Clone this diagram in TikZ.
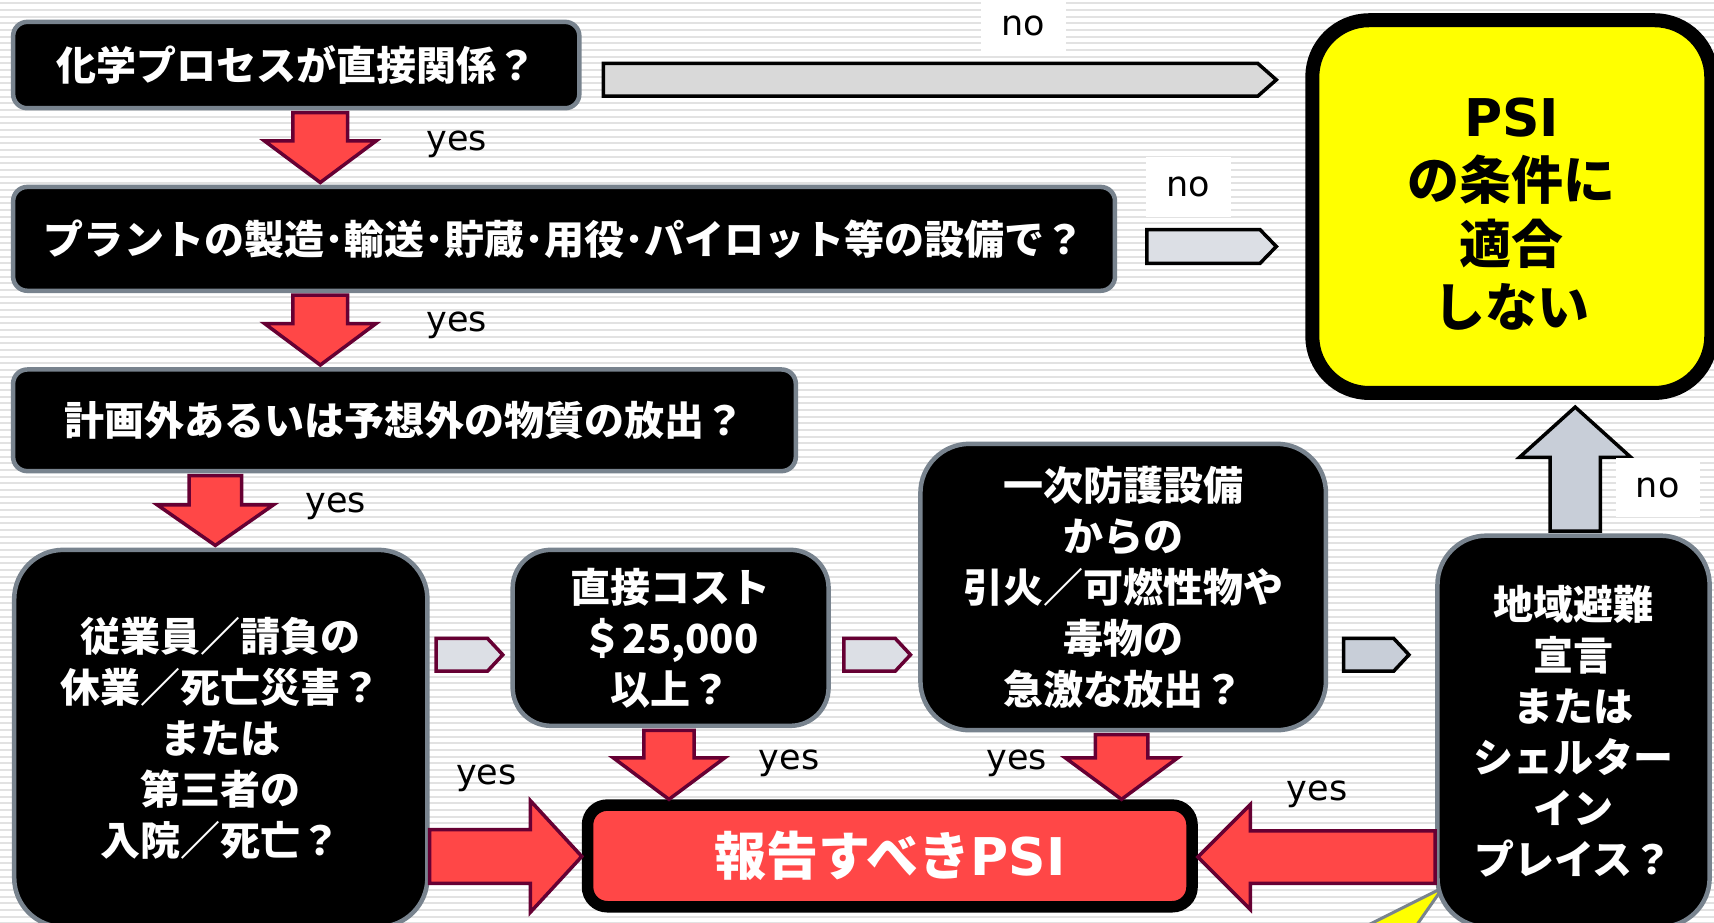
\documentclass[tikz,border=0pt]{standalone}
\usepackage{fontspec}
\usetikzlibrary{calc}
\newfontfamily\jp{Noto Sans CJK JP}
\newfontfamily\dv{DejaVu Sans}
\definecolor{boxgray}{HTML}{78838E}
\definecolor{redf}{HTML}{FF4747}
\definecolor{maroonc}{HTML}{660033}
\definecolor{lgrayf}{HTML}{D9D9D9}
\definecolor{lbluef}{HTML}{DCDFE5}
\definecolor{sgrayf}{HTML}{C8CED8}
\definecolor{stripec}{HTML}{E2E2E2}
\definecolor{yelf}{HTML}{FFFF00}
\newcommand\D[1]{#1*1.093pt}
\tikzset{
  qbox/.style={draw=boxgray, line width=4.5pt, fill=black, text=white, align=center,
    inner sep=0pt, font=\jp\bfseries\fontsize{40}{51}\selectfont},
  ybox/.style={draw=black, line width=14pt, fill=yelf, text=black, align=center,
    inner sep=0pt, font=\jp\bfseries\fontsize{52}{63.5}\selectfont},
  rbox/.style={draw=black, line width=11.5pt, fill=redf, text=white, align=center,
    inner sep=0pt, font=\jp\bfseries\fontsize{52}{60}\selectfont},
  redarr/.style={fill=redf, draw=maroonc, line width=3.5pt, line join=miter},
  grayarr/.style={fill=lgrayf, draw=black, line width=3.5pt, line join=miter},
  bluearr/.style={fill=lbluef, draw=black, line width=3.5pt, line join=miter},
  slatearr/.style={fill=sgrayf, draw=black, line width=3.5pt, line join=miter},
  smallm/.style={fill=lbluef, draw=maroonc, line width=3.5pt, line join=miter},
  lbl/.style={font=\dv\fontsize{35}{35}\selectfont, text=black, inner sep=0pt},
  nolbl/.style={lbl, fill=white},
  stripeline/.style={draw=stripec, line width=2pt},
}
% vertical block arrow: style, start, tip, shaft half width, head half width, head-base offset (signed)
\newcommand\vblk[6]{\draw[#1] ($(#2)+(-#4,0)$) -- ($(#2)+(#4,0)$) -- ($(#3)+(#4,#6)$) -- ($(#3)+(#5,#6)$) -- (#3) -- ($(#3)+(-#5,#6)$) -- ($(#3)+(-#4,#6)$) -- cycle;}
% horizontal block arrow
\newcommand\hblk[6]{\draw[#1] ($(#2)+(0,-#4)$) -- ($(#3)+(#6,-#4)$) -- ($(#3)+(#6,-#5)$) -- (#3) -- ($(#3)+(#6,#5)$) -- ($(#3)+(#6,#4)$) -- ($(#2)+(0,#4)$) -- cycle;}
\begin{document}
\begin{tikzpicture}[x=1.093pt, y=-1.093pt]
\useasboundingbox (0,0) rectangle (1568,844);
\fill[white] (0,0) rectangle (1568,844);
\clip (0,0) rectangle (1568,844);
\foreach \i in {0,...,139} \draw[stripeline] (0,{\i*6.1+3}) -- (1568,{\i*6.1+3});

% callout wedge (under box 7)
\draw[fill=yelf, draw=boxgray, line width=3pt, line join=miter] (1320,812) -- (1240,852) -- (1292,852) -- cycle;

% boxes
\node[qbox, minimum width=\D{518}, minimum height=\D{79}, rounded corners=\D{13}] (b1) at (271,59.5) {化学プロセスが直接関係？};
\node[qbox, minimum width=\D{1008}, minimum height=\D{95}, rounded corners=\D{13}] (b2) at (516,218.5) {プラントの製造･輸送･貯蔵･用役･パイロット等の設備で？};
\node[qbox, minimum width=\D{716}, minimum height=\D{93}, rounded corners=\D{13}] (b3) at (370,384.5) {計画外あるいは予想外の物質の放出？};
\node[qbox, minimum width=\D{378}, minimum height=\D{345}, rounded corners=\D{45}] (b4) at (202,675.5) {従業員／請負の\\休業／死亡災害？\\または\\第三者の\\入院／死亡？};
\node[qbox, minimum width=\D{289}, minimum height=\D{161}, rounded corners=\D{35}] (b5) at (613.5,583.5) {直接コスト\\＄25,000\\以上？};
\node[qbox, minimum width=\D{371}, minimum height=\D{262}, rounded corners=\D{45}] (b6) at (1027.5,537) {一次防護設備\\からの\\引火／可燃性物や\\毒物の\\急激な放出？};
\node[qbox, minimum width=\D{249}, minimum height=\D{358}, rounded corners=\D{45}] (b7) at (1439.5,669) {地域避難\\宣言\\または\\シェルター\\イン\\プレイス？};
\node[ybox, minimum width=\D{365}, minimum height=\D{341}, rounded corners=\D{52}] (yb) at (1383,189) {\rule{0pt}{54pt}{\dv\bfseries PSI}\\の条件に\\適合\\しない};
\node[rbox, minimum width=\D{553}, minimum height=\D{93}, rounded corners=\D{18}] (res) at (814,783) {報告すべき{\dv\bfseries PSI}};

% connector end points
\coordinate (r1a) at ($(293,0 |- b1.south)+(0,2)$);
\coordinate (r1b) at ($(293,0 |- b2.north)+(0,-2)$);
\coordinate (r2a) at ($(293,0 |- b2.south)+(0,2)$);
\coordinate (r2b) at ($(293,0 |- b3.north)+(0,-2)$);
\coordinate (r3a) at ($(197,0 |- b3.south)+(0,2)$);
\coordinate (r3b) at ($(197,0 |- b4.north)+(0,-2)$);
\coordinate (r4a) at ($(612,0 |- b5.south)+(0,2)$);
\coordinate (r4b) at (612,0 |- res.north);
\coordinate (r5a) at ($(1026,0 |- b6.south)+(0,2)$);
\coordinate (r5b) at (1026,0 |- res.north);
\coordinate (r6a) at (b4.east |- 0,783.5);
\coordinate (r6b) at (res.west |- 0,783.5);
\coordinate (r7a) at (b7.west |- 0,784);
\coordinate (r7b) at (res.east |- 0,784);
\coordinate (n1a) at ($(b1.east |- 0,73)+(20,0)$);
\coordinate (n1b) at ($(yb.west |- 0,73)+(-26.5,0)$);
\coordinate (n2a) at ($(b2.east |- 0,225.5)+(27,0)$);
\coordinate (n2b) at ($(yb.west |- 0,225.5)+(-26.5,0)$);
\coordinate (ua) at ($(1441,0 |- b7.north)+(0,-2)$);
\coordinate (ub) at ($(1441,0 |- yb.south)+(0,6.5)$);
\coordinate (s1a) at ($(b4.east |- 0,599)+(6,0)$);
\coordinate (s1b) at ($(b5.west |- 0,599)+(-7,0)$);
\coordinate (s2a) at ($(b5.east |- 0,599)+(12,0)$);
\coordinate (s2b) at ($(b6.west |- 0,599)+(-7,0)$);
\coordinate (s3a) at ($(b6.east |- 0,599)+(14,0)$);
\coordinate (s3b) at ($(b7.west |- 0,599)+(-24,0)$);

% red yes arrows
\vblk{redarr}{r1a}{r1b}{25}{51}{-38}
\vblk{redarr}{r2a}{r2b}{25}{51}{-38}
\vblk{redarr}{r3a}{r3b}{24}{53}{-37}
\vblk{redarr}{r4a}{r4b}{23}{51}{-38}
\vblk{redarr}{r5a}{r5b}{24}{51.5}{-38}
\hblk{redarr}{r6a}{r6b}{24.5}{51}{-47}
\hblk{redarr}{r7a}{r7b}{24}{48}{48}

% no arrows
\hblk{grayarr}{n1a}{n1b}{15}{15}{-17}
\hblk{bluearr}{n2a}{n2b}{15.5}{15.5}{-15}
\vblk{slatearr}{ua}{ub}{23}{51}{46}

% small next arrows
\hblk{smallm}{s1a}{s1b}{15}{15}{-14}
\hblk{smallm}{s2a}{s2b}{15}{15}{-14}
\hblk{slatearr}{s3a}{s3b}{15}{15}{-14}

% labels
\node[nolbl, minimum width=\D{78}, minimum height=\D{49}] (no1) at (936,24) {no};
\node[nolbl, minimum width=\D{78}, minimum height=\D{55}] (no2) at (1087,171) {no};
\node[nolbl, minimum width=\D{77}, minimum height=\D{54}] (no3) at (1516.5,446) {no};
\node[lbl] (y1) at (418,132) {yes};
\node[lbl] (y2) at (418,298) {yes};
\node[lbl] (y3) at (307,463) {yes};
\node[lbl] (y4) at (445,712) {yes};
\node[lbl] (y5) at (722,698) {yes};
\node[lbl] (y6) at (930,698) {yes};
\node[lbl] (y7) at (1205,727) {yes};
\end{tikzpicture}
\end{document}
